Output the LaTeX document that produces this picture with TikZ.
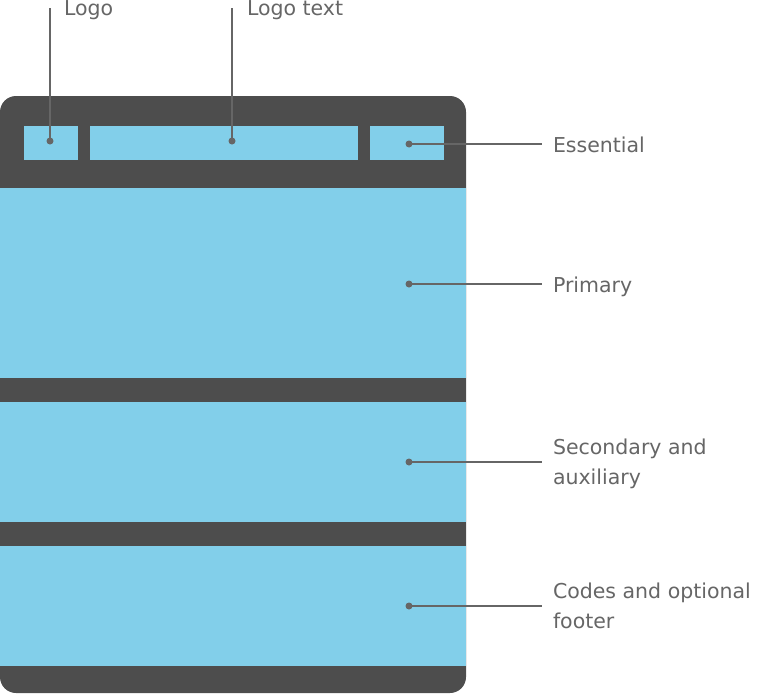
\documentclass[tikz,border=0pt]{standalone}
\usepackage{fontspec}
\setmainfont{DejaVu Sans}
\definecolor{frame}{HTML}{4D4D4D}
\definecolor{pane}{HTML}{82CFEA}
\definecolor{callout}{HTML}{666666}
\begin{document}
\begin{tikzpicture}[x=1pt,y=-1pt,inner sep=0pt,outer sep=0pt,
panebox/.style={fill=pane},
leader/.style={draw=callout,line width=2.2pt},
tag/.style={text=callout,font=\fontsize{20.5}{30}\selectfont,align=left,anchor=base west}]
\useasboundingbox (0,0) rectangle (770,696);
% window frame and panes
\fill[frame,rounded corners=16] (0,96) rectangle (466,693);
\fill[panebox] (24,126) rectangle (78,160);
\fill[panebox] (90,126) rectangle (358,160);
\fill[panebox] (370,126) rectangle (444,160);
\fill[panebox] (0,188) rectangle (466,378);
\fill[panebox] (0,402) rectangle (466,522);
\fill[panebox] (0,546) rectangle (466,666);

% callout points
\coordinate (logo) at (50,141);
\coordinate (logotext) at (232,141);
\coordinate (essential) at (409,144);
\coordinate (primary) at (409,284);
\coordinate (secondary) at (409,462);
\coordinate (codes) at (409,606);

% labels (base is the last line)
\node[tag] (Llogo) at (64,16) {Logo};
\node[tag] (Llogotext) at (247,16) {Logo text};
\node[tag] (Lessential) at (553,152) {Essential};
\node[tag] (Lprimary) at (553,292) {Primary};
\node[tag] (Lsecondary) at (553,484) {Secondary and\\auxiliary};
\node[tag] (Lcodes) at (553,628) {Codes and optional\\footer};

% leaders
\draw[leader] (logo) -- ++(0,-133);
\draw[leader] (logotext) -- ++(0,-133);
\foreach \p in {essential,primary,secondary,codes}
  \draw[leader] (\p) -- ++(133,0);
\foreach \p in {logo,logotext,essential,primary,secondary,codes}
  \fill[callout] (\p) circle (3.5);
\end{tikzpicture}
\end{document}
